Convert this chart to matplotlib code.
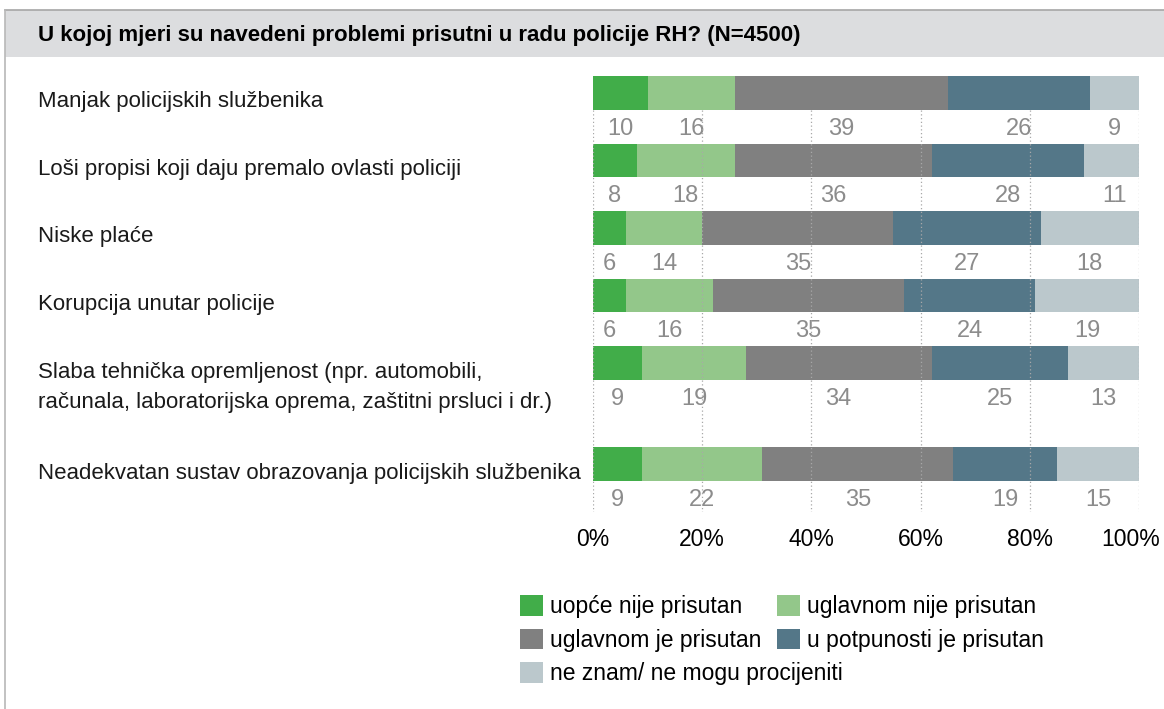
import numpy as np
import matplotlib
matplotlib.use("Agg")
import matplotlib.pyplot as plt
from matplotlib.patches import Rectangle, Patch
from matplotlib.lines import Line2D
from matplotlib.transforms import blended_transform_factory, ScaledTranslation

plt.rcParams['font.family'] = ['Liberation Sans', 'DejaVu Sans']

# --- podaci ---
title = "U kojoj mjeri su navedeni problemi prisutni u radu policije RH? (N=4500)"
categories = [
    "Manjak policijskih službenika",
    "Loši propisi koji daju premalo ovlasti policiji",
    "Niske plaće",
    "Korupcija unutar policije",
    "Slaba tehnička opremljenost (npr. automobili,\nračunala, laboratorijska oprema, zaštitni prsluci i dr.)",
    "Neadekvatan sustav obrazovanja policijskih službenika",
]
series_names = [
    "uopće nije prisutan",
    "uglavnom nije prisutan",
    "uglavnom je prisutan",
    "u potpunosti je prisutan",
    "ne znam/ ne mogu procijeniti",
]
uopce_nije = [10, 8, 6, 6, 9, 9]
uglavnom_nije = [16, 18, 14, 16, 19, 22]
uglavnom_je = [39, 36, 35, 35, 34, 35]
u_potpunosti = [26, 28, 27, 24, 25, 19]
ne_znam = [9, 11, 18, 19, 13, 15]
tick_vals = [0, 20, 40, 60, 80, 100]
tick_labels = ["0%", "20%", "40%", "60%", "80%", "100%"]

colors = ['#41ad49', '#93c78a', '#808080', '#547788', '#bbc8cc']

W, H = 1164, 709
fig = plt.figure(figsize=(W / 100, H / 100), dpi=100)

# okvir i traka naslova
fig.patches.append(Rectangle((5 / W, 1 - 57 / H), 1 - 5 / W, 47 / H, transform=fig.transFigure,
                             facecolor='#dcdddf', edgecolor='none', zorder=0))
fig.add_artist(Line2D([5 / W, 1], [1 - 10 / H, 1 - 10 / H], transform=fig.transFigure, color='#a6a6a6', lw=1.2))
fig.add_artist(Line2D([5 / W, 5 / W], [0, 1 - 10 / H], transform=fig.transFigure, color='#b8b8b8', lw=1.2))
fig.text(38 / W, 1 - 35 / H, title, fontsize=16, fontweight='bold', va='center', ha='left')

# osi
ax = fig.add_axes([593 / W, 1 - 511.6 / H, 546 / W, 451.6 / H])
ypos = np.array([0, 1, 2, 3, 4, 5.5])
data = [uopce_nije, uglavnom_nije, uglavnom_je, u_potpunosti, ne_znam]

left = np.zeros(len(categories))
for vals, col, name in zip(data, colors, series_names):
    vals = np.array(vals)
    ax.barh(ypos, vals, left=left, height=0.5, color=col, label=name, zorder=2)
    for y, l, v in zip(ypos, left, vals):
        ax.text(l + v / 2, y + 0.53, str(v), ha='center', va='center', fontsize=17, color='#8c8c8c')
    left += vals

ax.set_xlim(0, 100)
ax.set_ylim(6.2, -0.49)
ax.vlines(tick_vals, 0.25, 6.2, colors='#a8a8a8', linestyles=(0, (1, 2)), linewidth=0.9, zorder=3)
ax.set_xticks(tick_vals)
ax.set_xticklabels(tick_labels, fontsize=16.5)
ax.tick_params(axis='x', length=0, pad=12)
ax.set_yticks([])
for s in ax.spines.values():
    s.set_visible(False)

# zadnju oznaku (100%) malo ulijevo da stane
last = ax.get_xticklabels()[-1]
last.set_transform(last.get_transform() + ScaledTranslation(-8 / 100, 0, fig.dpi_scale_trans))

# nazivi kategorija
tr = blended_transform_factory(fig.transFigure, ax.transData)
for y, cat in zip(ypos, categories):
    off = 0.36 if "\n" in cat else 0.13
    ax.text(38 / W, y + off, cat, transform=tr, ha='left', va='center', fontsize=16,
            linespacing=1.6, color='#1a1a1a')

# legenda: prva dva reda u dva stupca, zadnja stavka posebno
handles = [Patch(facecolor=c, edgecolor='none') for c in colors]
order = [0, 2, 1, 3]
fig.legend([handles[i] for i in order], [series_names[i] for i in order], ncol=2,
           loc='upper left', bbox_to_anchor=(511 / W, 1 - 586 / H), frameon=False,
           fontsize=16.5, handlelength=1.0, handleheight=1.0, handletextpad=0.3,
           columnspacing=0.7, labelspacing=0.45, borderaxespad=0)
fig.legend([handles[4]], [series_names[4]], loc='upper left',
           bbox_to_anchor=(511 / W, 1 - 653 / H), frameon=False,
           fontsize=16.5, handlelength=1.0, handleheight=1.0, handletextpad=0.3, borderaxespad=0)

fig.savefig("out.png", dpi=100)
